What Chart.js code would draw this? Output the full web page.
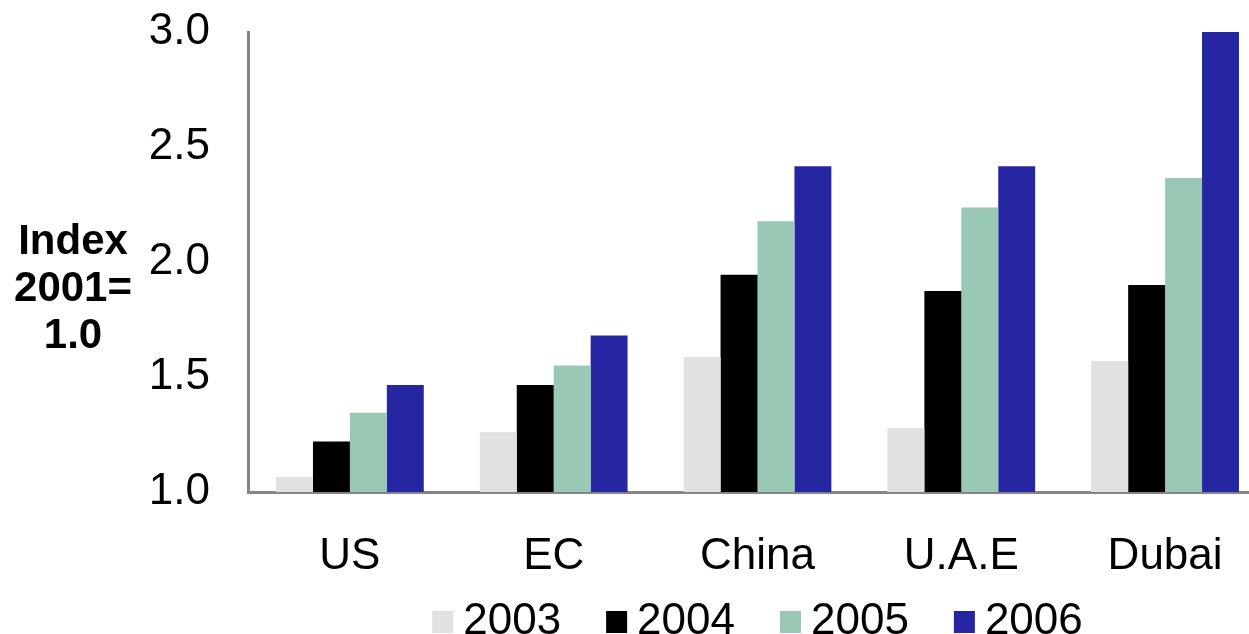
<!DOCTYPE html>
<html>
<head>
<meta charset="utf-8">
<script src="https://cdn.jsdelivr.net/npm/chart.js@4"></script>
<style>
  html, body { margin: 0; padding: 0; background: #fff; overflow: hidden; }
  #wrap { width: 1277px; height: 634px; }
</style>
</head>
<body>
<div id="wrap"><canvas id="indexChart" width="1277" height="634"></canvas></div>
<script>
// categories and series
const regions = ['US', 'EC', 'China', 'U.A.E', 'Dubai'];
const years = ['2003', '2004', '2005', '2006'];
const idx2003 = [1.065, 1.26, 1.587, 1.278, 1.57];
const idx2004 = [1.22, 1.465, 1.945, 1.874, 1.9];
const idx2005 = [1.345, 1.55, 2.177, 2.237, 2.365];
const idx2006 = [1.465, 1.68, 2.416, 2.416, 3.0];
const yearColors = ['#E1E1E1', '#000000', '#99C8B4', '#2626A3'];
const yTicks = [1.0, 1.5, 2.0, 2.5, 3.0];
const yTitle = ['Index', '2001=', '1.0'];

const FONT = '"Liberation Sans", Arial, sans-serif';

// y axis title, drawn flat (not rotated) left of the ticks
const yTitlePlugin = {
  id: 'yTitle',
  afterDraw(chart) {
    const ctx = chart.ctx;
    ctx.save();
    ctx.fillStyle = '#000';
    ctx.font = 'bold 42px ' + FONT;
    ctx.textAlign = 'center';
    ctx.textBaseline = 'middle';
    yTitle.forEach((line, i) => {
      ctx.fillText(line, 73, 242 + i * 47);
    });
    ctx.restore();
  }
};

// legend under the axis labels, centred on the plot area
const legendPlugin = {
  id: 'squareLegend',
  afterDraw(chart) {
    const ctx = chart.ctx;
    const sets = chart.data.datasets;
    ctx.save();
    ctx.font = '44px ' + FONT;
    ctx.textBaseline = 'middle';
    ctx.textAlign = 'left';
    const box = 21, gap = 10, between = 45;
    let total = 0;
    sets.forEach((ds, i) => {
      total += box + gap + ctx.measureText(ds.label).width;
      if (i < sets.length - 1) total += between;
    });
    const area = chart.chartArea;
    let x = (area.left + area.right) / 2 - total / 2;
    const yMid = 622;
    sets.forEach(ds => {
      ctx.fillStyle = ds.backgroundColor;
      ctx.fillRect(x, yMid - 11, box, 22);
      ctx.fillStyle = '#000';
      ctx.fillText(ds.label, x + box + gap, yMid);
      x += box + gap + ctx.measureText(ds.label).width + between;
    });
    ctx.restore();
  }
};

const seriesData = [idx2003, idx2004, idx2005, idx2006];

const ctx = document.getElementById('indexChart').getContext('2d');
new Chart(ctx, {
  type: 'bar',
  data: {
    labels: regions,
    datasets: years.map((yr, i) => ({
      label: yr,
      data: seriesData[i],
      backgroundColor: yearColors[i],
      borderWidth: 0,
      barPercentage: 1.0,
      categoryPercentage: 0.725
    }))
  },
  options: {
    responsive: false,
    animation: false,
    devicePixelRatio: 1,
    layout: {
      padding: { top: 32, right: 10, bottom: 52, left: 0 }
    },
    plugins: {
      legend: { display: false },
      tooltip: { enabled: false }
    },
    scales: {
      x: {
        grid: { display: false, drawTicks: false },
        border: { display: true, color: '#858585', width: 3 },
        ticks: {
          color: '#000',
          font: { family: FONT, size: 44 },
          padding: 38,
          maxRotation: 0
        },
        afterFit(scale) {
          scale.height = 90;
          scale.paddingLeft = 0;
          scale.paddingRight = 0;
        }
      },
      y: {
        min: 1,
        max: 3,
        grid: { display: false, drawTicks: false },
        border: { display: true, color: '#858585', width: 3 },
        afterBuildTicks(scale) {
          scale.ticks = yTicks.map(v => ({ value: v }));
        },
        ticks: {
          color: '#000',
          font: { family: FONT, size: 44 },
          padding: 38,
          callback: v => Number(v).toFixed(1)
        },
        afterFit(scale) {
          scale.width = 248;
          scale.paddingTop = 0;
          scale.paddingBottom = 0;
        }
      }
    }
  },
  plugins: [yTitlePlugin, legendPlugin]
});
</script>
</body>
</html>
